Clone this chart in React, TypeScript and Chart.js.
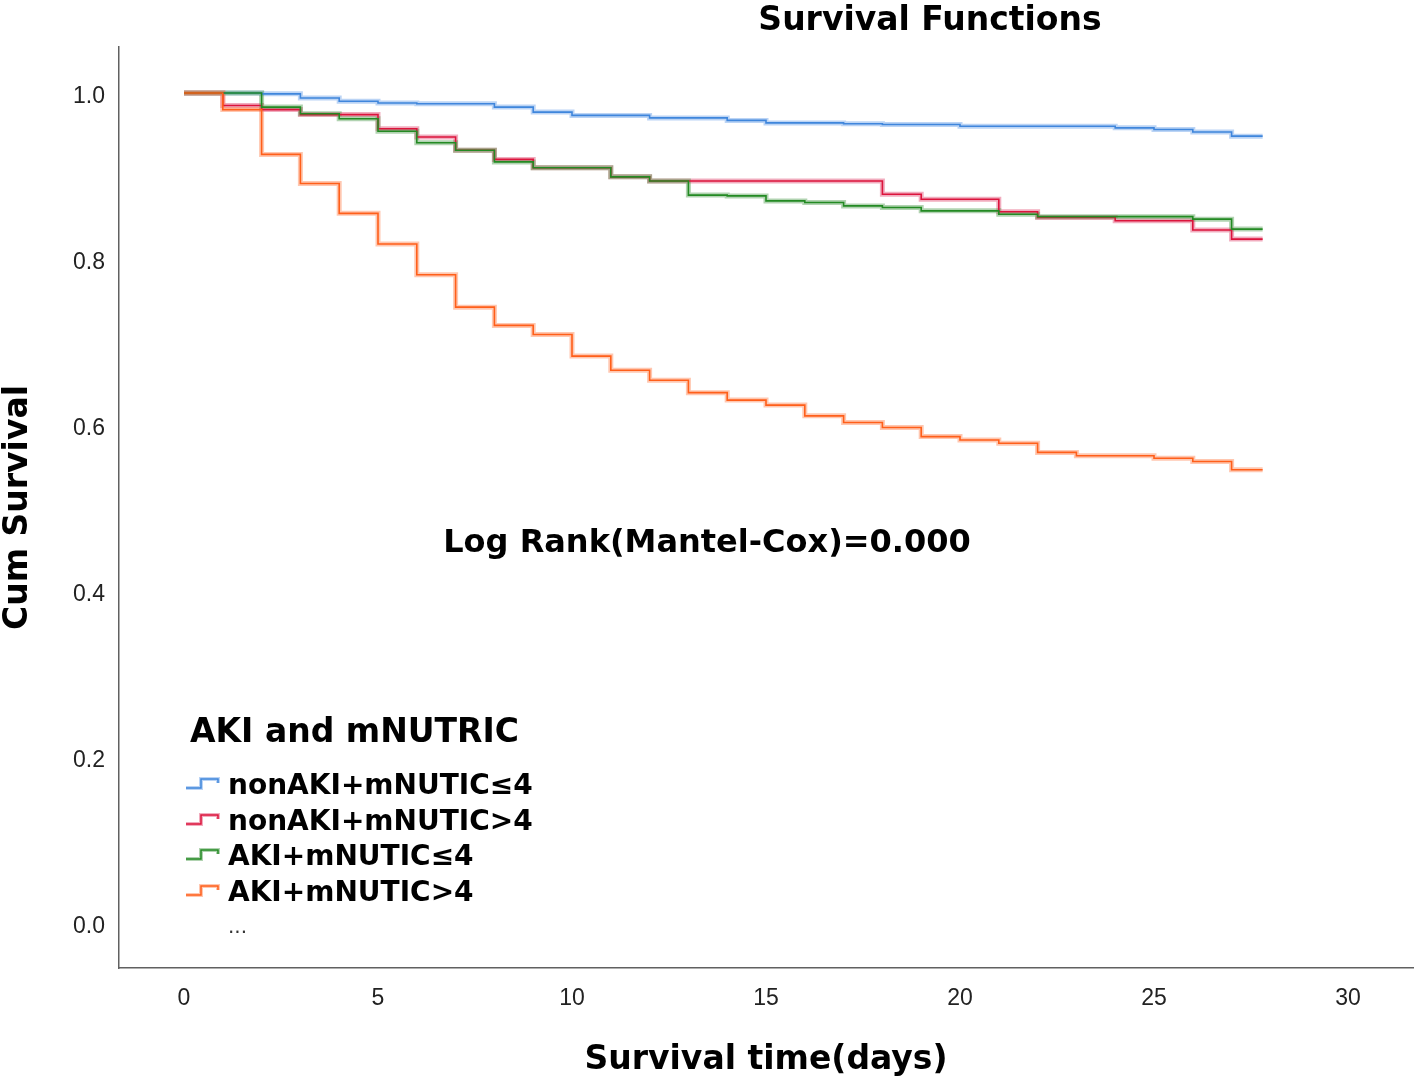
import React, { useEffect, useRef } from "react";
import { Chart, registerables } from "chart.js";

Chart.register(...registerables);

// ---- data ----
const days = [0, 1, 2, 3, 4, 5, 6, 7, 8, 9, 10, 11, 12, 13, 14, 15, 16, 17, 18, 19, 20, 21, 22, 23, 24, 25, 26, 27, 27.8];

const nonAkiLow = [1.0, 1.0, 0.999, 0.994, 0.99, 0.988, 0.987, 0.987, 0.983, 0.977, 0.973, 0.973, 0.97, 0.97, 0.967, 0.964, 0.964, 0.963, 0.962, 0.962, 0.96, 0.96, 0.96, 0.96, 0.958, 0.956, 0.953, 0.948, 0.948];
const nonAkiHigh = [1.0, 0.985, 0.98, 0.974, 0.974, 0.957, 0.947, 0.931, 0.92, 0.91, 0.91, 0.899, 0.894, 0.894, 0.894, 0.894, 0.894, 0.894, 0.878, 0.872, 0.872, 0.857, 0.85, 0.85, 0.846, 0.846, 0.835, 0.824, 0.824];
const akiLow = [1.0, 1.0, 0.983, 0.975, 0.969, 0.954, 0.94, 0.931, 0.917, 0.91, 0.91, 0.899, 0.894, 0.877, 0.876, 0.87, 0.868, 0.864, 0.862, 0.858, 0.858, 0.854, 0.851, 0.851, 0.851, 0.851, 0.848, 0.836, 0.836];
const akiHigh = [1.0, 0.98, 0.926, 0.891, 0.855, 0.818, 0.781, 0.742, 0.72, 0.709, 0.683, 0.666, 0.654, 0.639, 0.63, 0.624, 0.611, 0.603, 0.597, 0.586, 0.582, 0.578, 0.567, 0.563, 0.563, 0.56, 0.556, 0.546, 0.546];

const seriesNames = ["nonAKI+mNUTIC\u22644", "nonAKI+mNUTIC>4", "AKI+mNUTIC\u22644", "AKI+mNUTIC>4"];
const seriesValues = [nonAkiLow, nonAkiHigh, akiLow, akiHigh];
const lineColors = ["#3f86dc", "#dc143c", "#238a23", "#ff5f1a"];
const bandColors = ["rgba(120,170,235,0.5)", "rgba(225,70,110,0.45)", "rgba(70,150,70,0.42)", "rgba(255,130,80,0.45)"];
const lineOrder = [3, 2, 1, 0];

const xTicks = [0, 5, 10, 15, 20, 25, 30];
const yTicks = [0, 0.2, 0.4, 0.6, 0.8, 1.0];

const chartTitle = "Survival Functions";
const xTitle = "Survival time(days)";
const yTitle = "Cum Survival";
const legendTitle = "AKI and mNUTRIC";
const annotation = "Log Rank(Mantel-Cox)=0.000";

const BOLD = "'DejaVu Sans', sans-serif";

function StepIcon({ color, band }: { color: string; band: string }) {
  return (
    <svg width="36" height="14" style={{ display: "block" }}>
      <polyline points="1,11 16,11 16,2 33,2 33,6" fill="none" stroke={band} strokeWidth="4" />
      <polyline points="1,11 16,11 16,2 33,2 33,6" fill="none" stroke={color} strokeWidth="1.5" />
    </svg>
  );
}

export default function App() {
  const canvasRef = useRef<HTMLCanvasElement | null>(null);

  useEffect(() => {
    document.body.style.margin = "0";
    const canvas = canvasRef.current;
    if (!canvas) return;

    const datasets: any[] = [];
    seriesValues.forEach((vals, i) => {
      const pts = days.map((d, k) => ({ x: d, y: vals[k] }));
      datasets.push({
        label: seriesNames[i] + " band",
        data: pts,
        borderColor: bandColors[i],
        borderWidth: 5,
        stepped: "before",
        pointRadius: 0,
        fill: false,
        order: 10 + lineOrder[i],
      });
      datasets.push({
        label: seriesNames[i],
        data: pts,
        borderColor: lineColors[i],
        borderWidth: 1.6,
        stepped: "before",
        pointRadius: 0,
        fill: false,
        order: lineOrder[i],
      });
    });

    const chart = new Chart(canvas, {
      type: "line",
      data: { datasets },
      options: {
        animation: false,
        responsive: false,
        devicePixelRatio: 1,
        layout: { padding: { top: 47, right: 3, left: 0, bottom: 0 } },
        plugins: {
          legend: { display: false },
          tooltip: { enabled: false },
          title: { display: false },
        },
        scales: {
          x: {
            type: "linear",
            min: -65 / 38.8,
            max: (1413 - 184) / 38.8,
            afterFit: (s: any) => {
              s.height = 116;
            },
            afterBuildTicks: (s: any) => {
              s.ticks = xTicks.map((v) => ({ value: v }));
            },
            grid: { display: false, drawTicks: false },
            border: { display: true, color: "#606060", width: 1.5 },
            ticks: {
              autoSkip: false,
              maxRotation: 0,
              padding: 17,
              color: "#222",
              font: { family: "'Liberation Sans', sans-serif", size: 23 },
              callback: (v: any) => String(v),
            },
            title: {
              display: true,
              text: xTitle,
              color: "#000",
              font: { family: BOLD, size: 33, weight: "bold", lineHeight: 1.1 },
              padding: { top: 0, bottom: 5 },
            },
          },
          y: {
            type: "linear",
            min: (923 - 968) / 830,
            max: 1 + (93 - 47) / 830,
            afterFit: (s: any) => {
              s.width = 119;
            },
            afterBuildTicks: (s: any) => {
              s.ticks = yTicks.map((v) => ({ value: v }));
            },
            grid: { display: false, drawTicks: false },
            border: { display: true, color: "#606060", width: 1.5 },
            ticks: {
              autoSkip: false,
              padding: 14,
              labelOffset: 4,
              color: "#222",
              font: { family: "'Liberation Sans', sans-serif", size: 23 },
              callback: (v: any) => Number(v).toFixed(1),
            },
            title: {
              display: true,
              text: yTitle,
              color: "#000",
              font: { family: BOLD, size: 33, weight: "bold", lineHeight: 1.1 },
              padding: { top: 0, bottom: 0 },
            },
          },
        },
      } as any,
    });

    return () => {
      chart.destroy();
    };
  }, []);

  const legendTops = [771, 807, 842, 878];

  return (
    <div style={{ position: "relative", width: 1416, height: 1084, background: "#fff", overflow: "hidden" }}>
      <canvas ref={canvasRef} width={1416} height={1084} style={{ position: "absolute", left: 0, top: 0 }} />
      <div
        style={{
          position: "absolute",
          left: 930,
          top: 2,
          transform: "translateX(-50%)",
          whiteSpace: "nowrap",
          font: `bold 33px/1 ${BOLD}`,
          color: "#000",
        }}
      >
        {chartTitle}
      </div>
      <div
        style={{
          position: "absolute",
          left: 707,
          top: 525,
          transform: "translateX(-50%)",
          whiteSpace: "nowrap",
          font: `bold 32px/1 ${BOLD}`,
          color: "#000",
        }}
      >
        {annotation}
      </div>
      <div
        style={{
          position: "absolute",
          left: 190,
          top: 714,
          whiteSpace: "nowrap",
          font: `bold 33px/1 ${BOLD}`,
          color: "#000",
        }}
      >
        {legendTitle}
      </div>
      {seriesNames.map((name, i) => (
        <div key={name}>
          <div style={{ position: "absolute", left: 185, top: legendTops[i] + 6 }}>
            <StepIcon color={lineColors[i]} band={bandColors[i]} />
          </div>
          <div
            style={{
              position: "absolute",
              left: 228,
              top: legendTops[i],
              whiteSpace: "nowrap",
              font: `bold 28px/1 ${BOLD}`,
              color: "#000",
            }}
          >
            {name}
          </div>
        </div>
      ))}
      <div
        style={{
          position: "absolute",
          left: 228,
          top: 916,
          whiteSpace: "nowrap",
          font: `20px/1 ${BOLD}`,
          color: "#333",
        }}
      >
        ...
      </div>
    </div>
  );
}
